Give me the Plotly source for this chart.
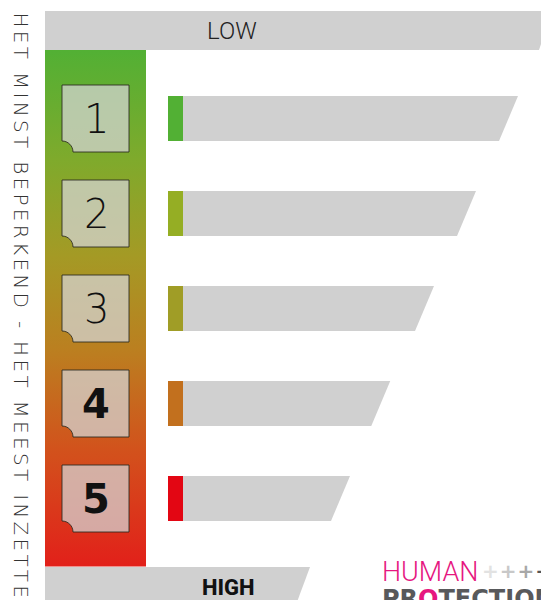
import plotly.graph_objects as go

# ---------------- data ----------------
levels = [1, 2, 3, 4, 5]
level_labels = ["1", "2", "3", "4", "5"]
bar_values = [100, 88, 76, 63.5, 52]
level_colors = ["#52b034", "#95ae24", "#a09d26", "#c2701e", "#e30613"]
label_weights = [200, 200, 200, 700, 800]
top_label = "LOW"
bottom_label = "HIGH"
side_title = "HET MINST BEPERKEND - HET MEEST INZETTEN"
brand_top = "HUMAN"
brand_bottom = ["PR", "O", "TECTION"]

# ---------------- geometry helpers (layout only) ----------------
VW, VH = 549, 600          # viewport
OFF = 8                    # page body margin
W, H = VW - OFF, VH - OFF  # figure size
PX_PER_X = 3.5
X_ZERO_PX = 168
PX_PER_LVL = 95
LVL1_PX = 118.5


def xd(px):
    return (px - X_ZERO_PX) / PX_PER_X


def yd(py):
    return (py - LVL1_PX) / PX_PER_LVL + 1


def xp(px):
    return (px - OFF) / W


def yp(py):
    return 1 - (py - OFF) / H


GRAY = "#d0d0d0"
BAR_HALF = 22.5 / PX_PER_LVL
SLANT = 19 / PX_PER_X
SEG_W = 15 / PX_PER_X

fig = go.Figure()

# gradient column
col_top, col_bot = yd(50), yd(566.5)
fig.add_trace(go.Scatter(
    x=[xd(45), xd(146), xd(146), xd(45), xd(45)],
    y=[col_top, col_top, col_bot, col_bot, col_top],
    mode="lines", line=dict(width=0), fill="toself",
    fillgradient=dict(
        type="vertical", start=col_top, stop=col_bot,
        colorscale=[[0, "#52b034"], [0.213, "#7faa2c"], [0.397, "#a49a25"],
                    [0.581, "#bb7f20"], [0.774, "#d2521c"], [1, "#e2201a"]]),
    hoverinfo="skip", showlegend=False))

# bars
for lvl, v, c in zip(levels, bar_values, level_colors):
    t, b = lvl - BAR_HALF, lvl + BAR_HALF
    fig.add_trace(go.Scatter(
        x=[0, v, v - SLANT, 0, 0], y=[t, t, b, b, t],
        mode="lines", line=dict(width=0), fill="toself", fillcolor=GRAY,
        hoverinfo="skip", showlegend=False))
    fig.add_trace(go.Scatter(
        x=[0, SEG_W, SEG_W, 0, 0], y=[t, t, b, b, t],
        mode="lines", line=dict(width=0), fill="toself", fillcolor=c,
        hoverinfo="skip", showlegend=False))

shapes = []
# top banner
shapes.append(dict(type="path", xref="paper", yref="paper",
                   path=f"M {xp(45)},{yp(11)} L {xp(552)},{yp(11)} L {xp(539)},{yp(50)} L {xp(45)},{yp(50)} Z",
                   fillcolor=GRAY, line=dict(width=0)))
# bottom banner
shapes.append(dict(type="path", xref="paper", yref="paper",
                   path=f"M {xp(45)},{yp(567)} L {xp(310)},{yp(567)} L {xp(297)},{yp(602)} L {xp(45)},{yp(602)} Z",
                   fillcolor=GRAY, line=dict(width=0)))

# label boxes
BOX_CX = xd(95.5)
BOX_HW = 33.5 / PX_PER_X
BOX_HH = 33.5 / PX_PER_LVL
RX = 11 / PX_PER_X
RY = 11 / PX_PER_LVL
K = 0.5523
annotations = []
for lvl, lab, w in zip(levels, level_labels, label_weights):
    L, R = BOX_CX - BOX_HW, BOX_CX + BOX_HW
    T, B = lvl - BOX_HH, lvl + BOX_HH
    path = (f"M {L},{T} L {R},{T} L {R},{B} L {L + RX},{B} "
            f"C {L + RX},{B - K * RY} {L + K * RX},{B - RY} {L},{B - RY} Z")
    shapes.append(dict(type="path", xref="x", yref="y", path=path,
                       fillcolor="rgba(212,212,212,0.74)",
                       line=dict(color="rgba(40,40,30,0.85)", width=1)))
    annotations.append(dict(x=BOX_CX + 0.15, y=lvl, xref="x", yref="y", text=lab,
                            showarrow=False, xanchor="center", yanchor="middle",
                            font=dict(family="DejaVu Sans", size=40, color="#111", weight=w)))


def ann(x, y, text, font, xanchor="center", **kw):
    d = dict(x=xp(x), y=yp(y), xref="paper", yref="paper", text=text, showarrow=False,
             xanchor=xanchor, yanchor="middle", font=font)
    d.update(kw)
    return d


annotations.append(ann(232, 31, top_label, dict(family="Roboto", size=24, color="#222", weight=300)))
annotations.append(ann(228, 587, bottom_label, dict(family="Roboto", size=22, color="#111", weight=800)))
annotations.append(ann(20.5, 316, f'<span style="letter-spacing:3.3px">{side_title}</span>',
                       dict(family="DejaVu Sans", size=20, color="#333", weight=200), textangle=90))
# brand
annotations.append(ann(380, 571.5, brand_top,
                       dict(family="Roboto", size=27, color="#e6177f", weight=300), xanchor="left"))
annotations.append(ann(480, 571,
                       ('<span style="letter-spacing:1px"><span style="color:#e2e2e2">+</span>'
                        '<span style="color:#c8c8c8">+</span><span style="color:#a8a8a8">+</span>'
                        '<span style="color:#555">+</span></span>'),
                       dict(family="DejaVu Sans", size=20, color="#555", weight=700), xanchor="left"))
annotations.append(ann(380, 599,
                       f'{brand_bottom[0]}<span style="color:#e6177f">{brand_bottom[1]}</span>{brand_bottom[2]}',
                       dict(family="DejaVu Sans", size=24, color="#58595b", weight=700), xanchor="left"))

fig.update_layout(
    width=W, height=H, margin=dict(l=0, r=0, t=0, b=0),
    paper_bgcolor="white", plot_bgcolor="white",
    xaxis=dict(range=[xd(OFF), xd(VW)], visible=False, fixedrange=True),
    yaxis=dict(range=[yd(VH), yd(OFF)], visible=False, fixedrange=True),
    shapes=shapes, annotations=annotations, showlegend=False,
)

fig.write_html("out.html")
